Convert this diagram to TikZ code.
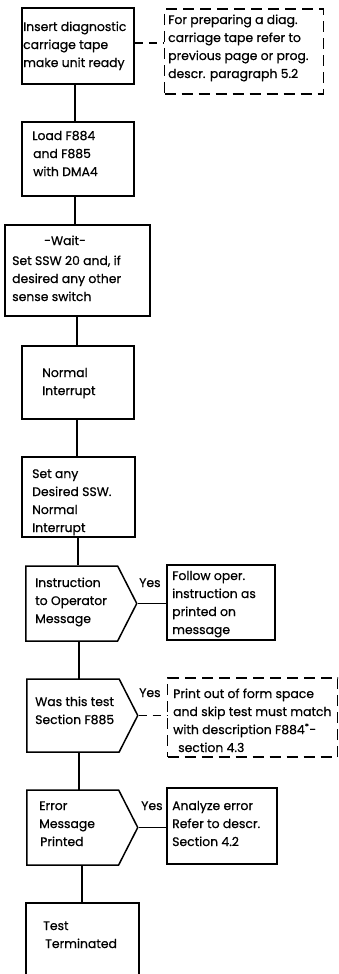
\documentclass[tikz,border=0pt]{standalone}
\usepackage{fontspec}
\setmainfont{Poppins}[FakeBold=0.6]
\usetikzlibrary{shapes.symbols}
\begin{document}
\begin{tikzpicture}[x=1pt,y=-1pt,
  box/.style={draw,line width=1.5pt,rectangle,inner sep=0pt},
  note/.style={draw,line width=1.3pt,dash pattern=on 11pt off 6pt,inner sep=0pt},
  dec/.style={draw,line width=1.5pt,shape=signal,signal to=east,signal pointer angle=126,inner sep=0pt,minimum width=111pt,minimum height=75pt,anchor=west},
  txt/.style={anchor=base west,align=left,inner sep=0pt,font=\fontsize{12.4}{18}\selectfont},
  lbl/.style={anchor=base west,inner sep=0pt,font=\fontsize{12.4}{14}\selectfont},
  link/.style={line width=1.6pt},
  dlink/.style={line width=1.4pt,dash pattern=on 8pt off 6pt}]
\clip (0,0) rectangle (339,974);
\fill[white] (0,0) rectangle (339,974);

% shapes
\node[box,minimum width=112pt,minimum height=76pt] (b1) at (78,46) {};
\node[note,minimum width=159pt,minimum height=85pt] (n1) at (244,51.5) {};
\node[box,minimum width=112pt,minimum height=74pt] (b2) at (78,159) {};
\node[box,minimum width=145pt,minimum height=91pt] (b3) at (77.5,270.5) {};
\node[box,minimum width=112pt,minimum height=73pt] (b4) at (78,382.5) {};
\node[box,minimum width=113pt,minimum height=80pt] (b5) at (78.5,497) {};
\node[dec,minimum height=75pt] (d1) at (25,603.5) {};
\node[box,minimum width=108pt,minimum height=75pt] (n2) at (221,602.5) {};
\node[dec,minimum height=73pt] (d2) at (26,715.5) {};
\node[note,minimum width=170pt,minimum height=79pt] (n3) at (252.5,717.5) {};
\node[dec,minimum height=75pt] (d3) at (26,827.5) {};
\node[box,minimum width=110pt,minimum height=76pt] (n4) at (222,826) {};
\node[box,minimum width=113pt,minimum height=100pt] (b6) at (82.5,953) {};

% texts (anchored at the baseline of the last line)
\node[txt] (t1) at (23,67) {Insert diagnostic\\carriage tape\\make unit ready};
\node[txt] (tn1) at (168,78) {For preparing a diag.\\carriage tape refer to\\previous page or prog.\\descr. paragraph 5.2};
\node[txt] (t2) at (32,176) {Load F884\\\hspace*{1pt}and F885\\\hspace*{1pt}with DMA4};
\node[txt] (t3a) at (44,245) {-Wait-};
\node[txt] (t3) at (12,301) {Set SSW 20 and, if\\desired any other\\sense switch};
\node[txt] (t4) at (42,395) {Normal\\Interrupt};
\node[txt] (t5) at (32,532) {Set any\\Desired SSW.\\Normal\\Interrupt};
\node[txt] (td1) at (35,623) {Instruction\\to Operator\\Message};
\node[txt] (tn2) at (172,634) {Follow oper.\\instruction as\\printed on\\message};
\node[txt] (td2) at (35,724) {Was this test\\Section F885};
\node[txt] (tn3) at (173,752) {Print out of form space\\and skip test must match\\with description F884\textsuperscript{*}-\\\hspace*{5pt}section 4.3};
\node[txt] (td3) at (39,846) {Error\\Message\\\hspace*{1pt}Printed};
\node[txt] (tn4) at (172,846) {Analyze error\\Refer to descr.\\Section 4.2};
\node[txt] (t6) at (43,948) {Test\\\hspace*{2pt}Terminated};

\node[lbl] (y1) at (139,587) {Yes};
\node[lbl] (y2) at (139,697) {Yes};
\node[lbl] (y3) at (141,810) {Yes};

% connectors
\draw[link] ([xshift=-3pt]b1.south) -- ([xshift=-3pt]b1.south |- b2.north);
\draw[dlink] (b1.east |- 0,43) -- (n1.west |- 0,43);
\draw[link] ([xshift=-3pt]b2.south) -- ([xshift=-3pt]b2.south |- b3.north);
\draw[link] ([xshift=-0.5pt]b3.south) -- ([xshift=-0.5pt]b3.south |- b4.north);
\draw[link] ([xshift=-1pt]b4.south) -- ([xshift=-1pt]b4.south |- b5.north);
\draw[link] ([xshift=-0.5pt]b5.south) -- ([xshift=-0.5pt]b5.south |- d1.north);
\draw[link] (d1.east) -- (d1.east -| n2.west);
\draw[link] (79,641) -- (79,679);
\draw[dlink] (d2.east) -- (d2.east -| n3.west);
\draw[link] (79,752) -- (79,790);
\draw[link] (d3.east) -- (d3.east -| n4.west);
\draw[link] ([xshift=-0.5pt]b6.north) -- ([xshift=-0.5pt]b6.north |- d3.south);
\end{tikzpicture}
\end{document}
